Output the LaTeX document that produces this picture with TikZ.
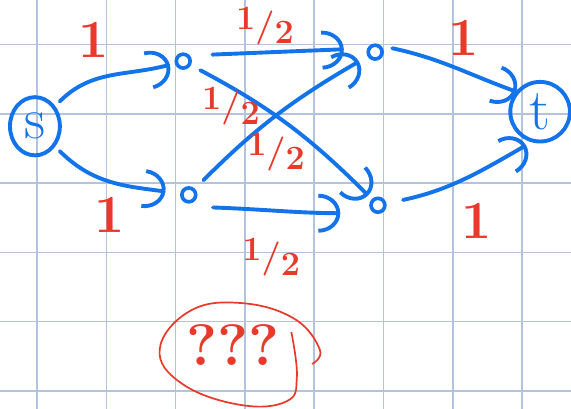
\documentclass[tikz,border=0pt]{standalone}
\usepackage{fontspec}
\usepackage{xcolor}
\definecolor{penblue}{HTML}{1273EA}
\definecolor{penred}{HTML}{E8392B}
\definecolor{gridblue}{HTML}{B3C3DD}
\usepackage{tikz}
\usetikzlibrary{shapes.geometric, arrows.meta}

\newcommand{\halfw}{\raisebox{3pt}{1}/\raisebox{-3pt}{2}}

\begin{document}
\begin{tikzpicture}[
  term/.style={ellipse, draw=penblue, line width=1.6pt, minimum width=0.72cm,
    minimum height=0.84cm, inner sep=0pt, outer sep=0.12cm, text=penblue,
    font=\fontsize{24}{24}\selectfont},
  vtx/.style={circle, draw=penblue, line width=1.5pt, minimum size=0.2cm,
    inner sep=0pt, outer sep=0.1cm},
  flow/.style={draw=penblue, line width=1.6pt, line cap=round,
    -{Arc Barb[length=9pt, width=16pt]}},
  wlabel/.style={text=penred, font=\bfseries\fontsize{22}{22}\selectfont},
  hlabel/.style={text=penred, font=\bfseries\fontsize{14}{14}\selectfont}
]
% paper
\useasboundingbox (-0.534,-0.26) rectangle (7.706,5.642);
\fill[white] (-0.534,-0.26) rectangle (7.706,5.642);
\draw[gridblue, line width=0.6pt] (-0.534,-0.26) grid (7.706,5.642);

% Vertices
\node[term] (s) at (-0.03,3.82) {s};
\node[vtx] (v1) at (2.11,4.76) {};
\node[vtx] (v2) at (2.19,2.83) {};
\node[vtx] (v3) at (4.88,4.89) {};
\node[vtx] (v4) at (4.92,2.68) {};
\node[term, minimum width=0.86cm, minimum height=0.86cm, outer sep=0.02cm] (t) at (7.26,4.03) {t};

% Edges out of s
\draw[flow] (s) to[out=45,in=195] (v1);
\draw[flow, shorten >=0.14cm] (s) to[out=-45,in=172] (v2);
% Middle edges
\draw[flow, shorten <=0.24cm, shorten >=0.26cm] (v1.25) -- (v3.165);
\draw[flow, shorten <=0.08cm] (v1) to[out=-28,in=135] (v4);
\draw[flow, shorten <=0.1cm, shorten >=0.07cm] (v2) to[out=45,in=-150] (v3);
\draw[flow, shorten <=0.25cm, shorten >=0.38cm] (v2.-60) to[out=-2,in=180] (v4.215);
% Edges into t
\draw[flow, shorten <=0.06cm] (v3.20) to[out=-12,in=160] (t.140);
\draw[flow, shorten <=0.17cm, shorten >=0.1cm] (v4) to[out=12,in=-150] (t.-105);

% Capacities
\node[wlabel] (w1) at (0.81,5.07) {1};
\node[wlabel] (w2) at (1.05,2.54) {1};
\node[wlabel] (w3) at (6.15,5.09) {1};
\node[wlabel] (w4) at (6.35,2.45) {1};
\node[hlabel] (h1) at (3.29,5.27) {\halfw};
\node[hlabel] (h2) at (2.80,4.11) {\halfw};
\node[hlabel] (h3) at (3.45,3.45) {\halfw};
\node[hlabel] (h4) at (3.38,1.93) {\halfw};

% Question
\node[text=penred, font=\bfseries\fontsize{24}{24}\selectfont] (q) at (2.83,0.66) {???};
\draw[penred, line width=0.7pt] plot[smooth, tension=0.7] coordinates
  {(3.67,0.85) (3.75,0.2) (3.6,-0.15) (2.93,-0.2) (2.1,0.1) (1.77,0.6)
   (2.2,1.15) (2.93,1.27) (3.7,1.05) (4.08,0.6) (3.97,0.39)};
\end{tikzpicture}
\end{document}
